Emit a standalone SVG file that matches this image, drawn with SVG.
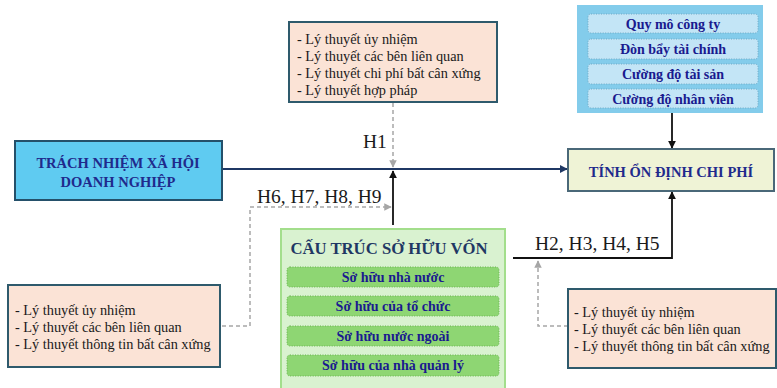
<svg xmlns="http://www.w3.org/2000/svg" width="777" height="388" viewBox="0 0 777 388">
  <defs>
    <style>
      .theory { fill: #FBE3D6; stroke: #2E5A6C; stroke-width: 2; }
      .theory-text { font-family: "Liberation Serif", "Times New Roman", serif; font-size: 14.3px; fill: #1a1a1a; }
      .hyp { font-family: "Liberation Serif", "Times New Roman", serif; font-size: 19.5px; fill: #1a1a1a; }
      .title { font-family: "Liberation Serif", "Times New Roman", serif; font-weight: bold; fill: #1F2A8C; text-anchor: middle; }
      .ctrl-bar { fill: #C3E5F6; stroke: #6FA9C4; stroke-width: 1; stroke-dasharray: 1 1.5; }
      .own-bar { fill: #8ED673; stroke: #6BB352; stroke-width: 1; stroke-dasharray: 1 1.5; }
      .bar-text { font-family: "Liberation Serif", "Times New Roman", serif; font-weight: bold; font-size: 14px; fill: #1A1A8F; text-anchor: middle; }
      .dash { fill: none; stroke: #A6A6A6; stroke-width: 1.5; stroke-dasharray: 4 3; }
      .solid { fill: none; stroke: #111111; stroke-width: 1.8; }
      .main { fill: none; stroke: #1F3864; stroke-width: 1.8; }
    </style>
    <marker id="arrGrey" viewBox="0 0 10 10" refX="9" refY="5" markerWidth="5" markerHeight="5" orient="auto">
      <path d="M0,0 L10,5 L0,10 z" fill="#A6A6A6"/>
    </marker>
    <marker id="arrBlack" viewBox="0 0 10 10" refX="9" refY="5" markerWidth="4.5" markerHeight="4.5" orient="auto">
      <path d="M0,0 L10,5 L0,10 z" fill="#111111"/>
    </marker>
    <marker id="arrNavy" viewBox="0 0 10 10" refX="9" refY="5" markerWidth="4.5" markerHeight="4.5" orient="auto">
      <path d="M0,0 L10,5 L0,10 z" fill="#1F3864"/>
    </marker>
  </defs>

  <rect width="777" height="388" fill="#FFFFFF"/>

  <!-- connectors -->
  <g id="connectors">
    <!-- CSR -> cost stability -->
    <line class="main" x1="222" y1="169" x2="567" y2="169" marker-end="url(#arrNavy)"/>
    <!-- theory (top) -> H1 -->
    <line class="dash" x1="393" y1="103" x2="393" y2="167" marker-end="url(#arrGrey)"/>
    <!-- ownership -> CSR link (moderation) -->
    <line class="solid" x1="393" y1="225" x2="393" y2="171" marker-end="url(#arrBlack)"/>
    <!-- theory (left) -> H6-H9 -->
    <polyline class="dash" points="222,326 250,326 250,207 391,207" marker-end="url(#arrGrey)"/>
    <!-- controls -> cost stability -->
    <line class="solid" x1="672" y1="113" x2="672" y2="148" marker-end="url(#arrBlack)"/>
    <!-- ownership -> cost stability -->
    <polyline class="solid" points="513,258 672,258 672,192" marker-end="url(#arrBlack)"/>
    <!-- theory (right) -> H2-H5 -->
    <polyline class="dash" points="568,326 538,326 538,261" marker-end="url(#arrGrey)"/>

    <text class="hyp" x="363" y="148">H1</text>
    <text class="hyp" x="257" y="203">H6, H7, H8, H9</text>
    <text class="hyp" x="535" y="250">H2, H3, H4, H5</text>
  </g>

  <!-- theories behind H1 -->
  <g id="theory-top">
    <rect class="theory" x="289" y="22" width="208" height="80"/>
    <text class="theory-text" x="297" y="44">- Lý thuyết ủy nhiệm</text>
    <text class="theory-text" x="297" y="61">- Lý thuyết các bên liên quan</text>
    <text class="theory-text" x="297" y="78">- Lý thuyết chi phí bất cân xứng</text>
    <text class="theory-text" x="297" y="95">- Lý thuyết hợp pháp</text>
  </g>

  <!-- control variables -->
  <g id="controls">
    <rect x="577" y="5" width="186" height="108" fill="#83CCEB"/>
    <rect class="ctrl-bar" x="588" y="14" width="170" height="19" rx="3"/>
    <text class="bar-text" x="673" y="29">Quy mô công ty</text>
    <rect class="ctrl-bar" x="588" y="39" width="170" height="20" rx="3"/>
    <text class="bar-text" x="673" y="54">Đòn bẩy tài chính</text>
    <rect class="ctrl-bar" x="588" y="64" width="170" height="20" rx="3"/>
    <text class="bar-text" x="673" y="79">Cường độ tài sản</text>
    <rect class="ctrl-bar" x="588" y="89" width="170" height="19" rx="3"/>
    <text class="bar-text" x="673" y="104">Cường độ nhân viên</text>
  </g>

  <!-- CSR -->
  <g id="csr">
    <rect x="15" y="141" width="207" height="59" fill="#5FCBF1" stroke="#24506A" stroke-width="2"/>
    <text class="title" x="118" y="168" font-size="14.5">TRÁCH NHIỆM XÃ HỘI</text>
    <text class="title" x="118" y="187" font-size="14.5">DOANH NGHIỆP</text>
  </g>

  <!-- cost stability -->
  <g id="cost-stability">
    <rect x="568" y="149" width="206" height="42" fill="#EFF3D6" stroke="#4A6878" stroke-width="2"/>
    <text class="title" x="671" y="177" font-size="14.5">TÍNH ỔN ĐỊNH CHI PHÍ</text>
  </g>

  <!-- ownership structure -->
  <g id="ownership">
    <rect x="281" y="229" width="224" height="162" fill="#D9F2D0" stroke="#A3DE8C" stroke-width="2"/>
    <text x="389" y="254" font-family="Liberation Serif, Times New Roman, serif" font-weight="bold" font-size="16.7" fill="#1F3864" text-anchor="middle">CẤU TRÚC SỞ HỮU VỐN</text>
    <rect class="own-bar" x="287" y="267" width="212" height="20" rx="3"/>
    <text class="bar-text" x="393" y="282">Sở hữu nhà nước</text>
    <rect class="own-bar" x="287" y="296" width="212" height="20" rx="3"/>
    <text class="bar-text" x="393" y="311">Sở hữu của tổ chức</text>
    <rect class="own-bar" x="287" y="326" width="212" height="20" rx="3"/>
    <text class="bar-text" x="393" y="341">Sở hữu nước ngoài</text>
    <rect class="own-bar" x="287" y="355" width="212" height="21" rx="3"/>
    <text class="bar-text" x="393" y="370">Sở hữu của nhà quản lý</text>
  </g>

  <!-- theories behind H6-H9 -->
  <g id="theory-left">
    <rect class="theory" x="8" y="285" width="212" height="82"/>
    <text class="theory-text" x="15" y="315">- Lý thuyết ủy nhiệm</text>
    <text class="theory-text" x="15" y="332">- Lý thuyết các bên liên quan</text>
    <text class="theory-text" x="15" y="349">- Lý thuyết thông tin bất cân xứng</text>
  </g>

  <!-- theories behind H2-H5 -->
  <g id="theory-right">
    <rect class="theory" x="568" y="289" width="208" height="79"/>
    <text class="theory-text" x="574" y="317">- Lý thuyết ủy nhiệm</text>
    <text class="theory-text" x="574" y="334">- Lý thuyết các bên liên quan</text>
    <text class="theory-text" x="574" y="351">- Lý thuyết thông tin bất cân xứng</text>
  </g>
</svg>
